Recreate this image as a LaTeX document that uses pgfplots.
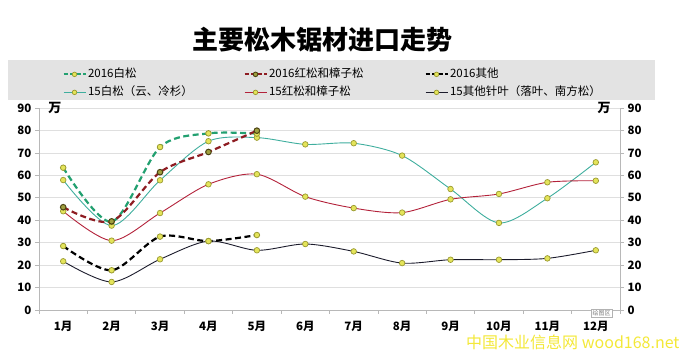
\documentclass[border=0pt]{standalone}
\usepackage{fontspec}
\setmainfont{Noto Sans CJK SC}
\usepackage{pgfplots}
\pgfplotsset{compat=1.18}
\definecolor{gA}{HTML}{22A070}
\definecolor{gD}{HTML}{3FAE9E}
\definecolor{rB}{HTML}{8E1C22}
\definecolor{rE}{HTML}{B3223A}
\definecolor{kF}{HTML}{1C1C2C}
\definecolor{mkfill}{HTML}{E4E45A}
\definecolor{mkedge}{HTML}{9A9A30}
\definecolor{mkdark}{HTML}{4A4212}
\definecolor{band}{HTML}{E3E3E3}
\definecolor{axgray}{HTML}{B8B8B8}
\definecolor{wm}{HTML}{F3E838}
\begin{document}
\begin{tikzpicture}[x=1pt,y=1pt]
\path[use as bounding box] (0,0) rectangle (685,353);
\fill[band] (8,253) rectangle (655,293);
\node[font=\fontsize{26}{28}\selectfont\bfseries] at (322,313) {主要松木锯材进口走势};
\begin{axis}[
  at={(39pt,43pt)}, anchor=south west,
  width=581pt, height=202pt, scale only axis,
  xmin=0.5, xmax=12.5, ymin=0, ymax=90,
  axis lines*=left,
  axis line style={axgray, line width=0.8pt},
  tick style={axgray, line width=0.7pt},
  tick align=outside, major tick length=4pt,
  ytick={0,10,...,90},
  ymajorgrids, grid style={gray!25, line width=0.7pt},
  xtick={0.5,1.5,...,12.5}, xticklabels={},
  extra x ticks={1,...,12},
  extra x tick labels={1月,2月,3月,4月,5月,6月,7月,8月,9月,10月,11月,12月},
  extra x tick style={major tick length=0pt, grid=none},
  xticklabel style={font=\fontsize{11.5}{12}\selectfont\bfseries, yshift=-8pt},
  yticklabel style={font=\fontsize{11.5}{12}\selectfont\bfseries},
  /pgf/number format/assume math mode=true,
  legend columns=3,
  legend style={at={(0.035,1.222)}, anchor=north west, draw=none, fill=none,
    font=\fontsize{11.5}{12}\selectfont, row sep=0pt,
    nodes={inner ysep=3pt, inner xsep=1.5pt, text height=9pt, text depth=3pt}},
  legend cell align=left,
  legend image code/.code={\draw[mark repeat=2,mark phase=2] plot coordinates {(0pt,0pt)(11pt,0pt)(22pt,0pt)};},
  clip=false,
]
\addlegendimage{gA, line width=2pt, dash pattern=on 4pt off 2.5pt, mark=*, mark size=2.3pt, mark options={solid, fill=mkfill, draw=mkedge, line width=0.7pt}}
\addlegendentry{\makebox[154pt][l]{2016白松}}
\addlegendimage{rB, line width=2pt, dash pattern=on 4pt off 2.5pt, mark=*, mark size=2.3pt, mark options={solid, fill=mkfill!70!black, draw=mkdark, line width=0.9pt}}
\addlegendentry{\makebox[154pt][l]{2016红松和樟子松}}
\addlegendimage{black, line width=2pt, dash pattern=on 4pt off 2.5pt, mark=*, mark size=2.3pt, mark options={solid, fill=mkfill, draw=mkedge, line width=0.7pt}}
\addlegendentry{\makebox[154pt][l]{2016其他}}
\addlegendimage{gD, line width=0.9pt, mark=*, mark size=2.3pt, mark options={solid, fill=mkfill, draw=mkedge, line width=0.7pt}}
\addlegendentry{\makebox[154pt][l]{15白松（云、冷杉）}}
\addlegendimage{rE, line width=0.9pt, mark=*, mark size=2.3pt, mark options={solid, fill=mkfill, draw=mkedge, line width=0.7pt}}
\addlegendentry{\makebox[154pt][l]{15红松和樟子松}}
\addlegendimage{kF, line width=0.9pt, mark=*, mark size=2.3pt, mark options={solid, fill=mkfill, draw=mkedge, line width=0.7pt}}
\addlegendentry{\makebox[154pt][l]{15其他针叶（落叶、南方松）}}
% 2015 series
\addplot[forget plot, gD, line width=0.9pt, smooth, mark=*, mark size=2.8pt, mark options={solid, fill=mkfill, draw=mkedge, line width=0.7pt}]
  coordinates {(1,57.9)(2,37.6)(3,57.8)(4,75.2)(5,76.8)(6,73.8)(7,74.3)(8,68.8)(9,53.9)(10,38.8)(11,49.8)(12,65.8)};
\addplot[forget plot, rE, line width=0.9pt, smooth, mark=*, mark size=2.8pt, mark options={solid, fill=mkfill, draw=mkedge, line width=0.7pt}]
  coordinates {(1,44.0)(2,30.9)(3,43.2)(4,56.0)(5,60.5)(6,50.5)(7,45.4)(8,43.4)(9,49.3)(10,51.7)(11,56.9)(12,57.6)};
\addplot[forget plot, kF, line width=0.9pt, smooth, mark=*, mark size=2.8pt, mark options={solid, fill=mkfill, draw=mkedge, line width=0.7pt}]
  coordinates {(1,21.7)(2,12.5)(3,22.6)(4,30.7)(5,26.6)(6,29.4)(7,26.1)(8,20.9)(9,22.4)(10,22.4)(11,23.0)(12,26.6)};
% 2016 series
\addplot[forget plot, gA, line width=2.2pt, dash pattern=on 6pt off 3.5pt, smooth, mark=*, mark size=2.8pt, mark options={solid, fill=mkfill, draw=mkedge, line width=0.8pt}]
  coordinates {(1,63.4)(2,39.3)(3,72.6)(4,78.7)(5,78.6)};
\addplot[forget plot, rB, line width=2.2pt, dash pattern=on 6pt off 3.5pt, smooth, mark=*, mark size=2.8pt, mark options={solid, fill=mkfill!70!black, draw=mkdark, line width=1pt}]
  coordinates {(1,45.8)(2,39.5)(3,61.4)(4,70.4)(5,79.9)};
\addplot[forget plot, black, line width=2.2pt, dash pattern=on 6pt off 3.5pt, smooth, mark=*, mark size=2.8pt, mark options={solid, fill=mkfill, draw=mkedge, line width=0.8pt}]
  coordinates {(1,28.5)(2,17.7)(3,32.7)(4,30.7)(5,33.4)};
\node[font=\fontsize{13}{13}\selectfont\bfseries, anchor=west] at (axis cs:0.62,90) {万};
\node[font=\fontsize{13}{13}\selectfont\bfseries, anchor=east] at (axis cs:12.38,90) {万};
\node[draw=gray!60, fill=white, font=\fontsize{6}{6}\selectfont, text=gray, inner sep=1.5pt] at (axis cs:12.12,-1.5) {绘图区};
\end{axis}
\begin{axis}[
  at={(39pt,43pt)}, anchor=south west,
  width=581pt, height=202pt, scale only axis,
  xmin=0.5, xmax=12.5, ymin=0, ymax=90,
  axis x line=none, axis y line*=right,
  axis line style={axgray, line width=0.8pt},
  tick style={axgray, line width=0.7pt},
  tick align=outside, major tick length=4pt,
  ytick={0,10,...,90},
  yticklabel style={font=\fontsize{11.5}{12}\selectfont\bfseries},
  /pgf/number format/assume math mode=true,
]
\addplot[draw=none] coordinates {(1,0)};
\end{axis}
\node[text=wm, font=\fontsize{16}{16}\selectfont, anchor=east] at (683,11) {中国木业信息网 wood168.net};
\end{tikzpicture}
\end{document}
